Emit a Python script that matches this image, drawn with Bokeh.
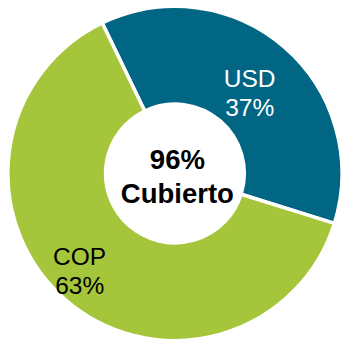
import math
from bokeh.plotting import figure
from bokeh.models import Range1d, ColumnDataSource
from bokeh.core.properties import value
from bokeh.embed import file_html
from bokeh.resources import INLINE

# data
labels = ["USD", "COP"]
shares = [37, 63]
colors = ["#006683", "#A5C53A"]
text_colors = ["white", "black"]
center_lines = ["96%", "Cubierto"]

W, H = 342, 343
p = figure(width=W, height=H, output_backend="svg", toolbar_location=None,
           x_range=Range1d(0, 350), y_range=Range1d(0, 351), min_border=0)
p.axis.visible = False
p.grid.visible = False
p.outline_line_color = None
p.background_fill_color = "white"
p.border_fill_color = "white"

cx, cy = 178.5, 174
r_out, r_in = 171, 71
start = math.radians(115.8)

starts, ends = [], []
a = start
total = sum(shares)
for s in shares:
    starts.append(a - 2 * math.pi * s / total)
    ends.append(a)
    a -= 2 * math.pi * s / total

src = ColumnDataSource(dict(x=[cx] * 2, y=[cy] * 2, start=starts, end=ends, color=colors))
p.annular_wedge(x="x", y="y", inner_radius=r_in, outer_radius=r_out,
                start_angle="start", end_angle="end", fill_color="color",
                line_color="white", line_width=3.5, source=src)
p.circle(x=[cx], y=[cy], radius=r_in, fill_color="white", line_color=None)

# slice labels
label_pos = [(255, 271), (81, 89)]
for (lx, ly), lab, val, tc in zip(label_pos, labels, shares, text_colors):
    p.text(x=[lx, lx], y=[ly, ly - 30], text=[lab, f"{val}%"],
           text_color=tc, text_font=value("Liberation Sans"),
           text_font_size="24.5px", text_align="center", text_baseline="alphabetic")

p.text(x=[181, 181], y=[188, 154], text=center_lines, text_color="black",
       text_font=value("Liberation Sans"), text_font_style="bold",
       text_font_size="27.5px", text_align="center", text_baseline="alphabetic")

open("out.html", "w").write(file_html(p, INLINE))
